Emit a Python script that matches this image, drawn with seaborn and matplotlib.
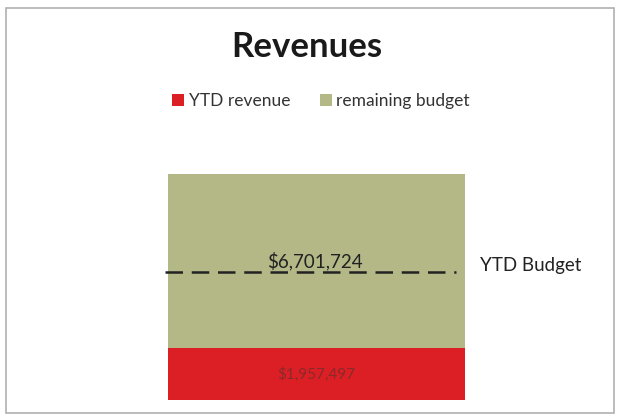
import matplotlib
matplotlib.use("Agg")
import matplotlib.pyplot as plt
import seaborn as sns
import pandas as pd
from matplotlib.patches import Rectangle, Patch
from matplotlib.lines import Line2D

# data
category = ["Revenues"]
ytd_revenue = [1957497]
remaining_budget = [6550000]
ytd_budget = 6701724
series_names = ["YTD revenue", "remaining budget"]

red = "#dc1f25"
olive = "#b4b887"

df = pd.DataFrame({
    "cat": category,
    "revenue": ytd_revenue,
    "total": [r + b for r, b in zip(ytd_revenue, remaining_budget)],
})

sns.set_style("white")
plt.rcParams["font.family"] = ["Lato", "DejaVu Sans"]

fig = plt.figure(figsize=(6.19, 4.17), dpi=100)
fig.patch.set_facecolor("white")

# chart frame
fig.patches.append(Rectangle((6/619, 4/417), 608/619, 405/417, transform=fig.transFigure,
                             fill=False, edgecolor="#b0b0b0", linewidth=1.2))

ax = fig.add_axes([168/619, 17/417, 297/619, 226/417])
sns.barplot(data=df, x="cat", y="total", color=olive, width=1.0, ax=ax, saturation=1, linewidth=0)
sns.barplot(data=df, x="cat", y="revenue", color=red, width=1.0, ax=ax, saturation=1, linewidth=0)
ax.set_xlim(-0.5, 0.5)
ax.set_ylim(0, df["total"].max())
ax.axis("off")

# revenue label in the red segment
ax.text(0, ytd_revenue[0] / 2, f"${ytd_revenue[0]:,}", ha="center", va="center",
        fontsize=11, color="#8a2a2a")

# YTD budget marker (overlay line as in the original sheet)
fig.add_artist(Line2D([165/619, 456/619], [145/417, 145/417], transform=fig.transFigure,
                      color="#222222", linewidth=1.8, linestyle=(0, (7, 3.5))))
fig.text(315/619, 156/417, f"${ytd_budget:,}", ha="center", va="center",
         fontsize=13.5, color="#222222")
fig.text(480/619, 152/417, "YTD Budget", ha="left", va="center",
         fontsize=13.5, color="#222222")

fig.text(307/619, 370/417, "Revenues", ha="center", va="center",
         fontsize=25, fontweight="bold", color="#1a1a1a")

handles = [Patch(facecolor=red, edgecolor="none"), Patch(facecolor=olive, edgecolor="none")]
fig.legend(handles, series_names, loc="center", bbox_to_anchor=(321/619, 316/417),
           ncol=2, frameon=False, fontsize=12.5, handlelength=0.7, handleheight=0.7,
           handletextpad=0.25, columnspacing=1.7, labelcolor="#333333")

fig.savefig("out.png", dpi=100)
